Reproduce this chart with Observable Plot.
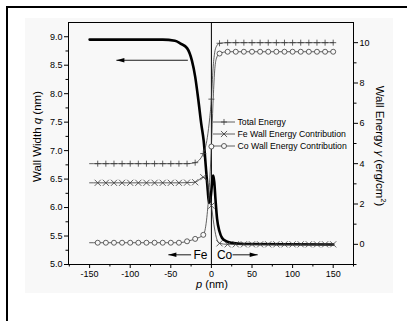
<!DOCTYPE html>
<html><head><meta charset="utf-8">
<script src="https://cdn.jsdelivr.net/npm/d3@7"></script>
<script src="https://cdn.jsdelivr.net/npm/@observablehq/plot@0.6"></script>
<style>
html,body{margin:0;padding:0;background:#fff;}
#page{position:relative;width:407px;height:321px;overflow:hidden;background:#fff;}
#bt{position:absolute;left:6px;top:6px;width:401px;height:2px;background:#000;}
#bl{position:absolute;left:6px;top:6px;width:2px;height:315px;background:#000;}
#chart{position:absolute;left:25px;top:18px;}
</style></head><body>
<div id="page"><div id="bt"></div><div id="bl"></div><div id="chart"></div></div>
<script>
// ---- data ----
const widthP = [-150,-100,-60,-45,-38,-30,-24,-20,-16,-12.5,-9.5,-6.5,-4.5,-3,-1.5,0,1.2,2.3,3.5,5,7,10,13,18,25,40,150];
const widthQ = [8.95,8.95,8.95,8.93,8.88,8.8,8.58,8.3,7.88,7.47,7.17,6.65,6.3,6.08,6.12,6.3,6.5,6.56,6.45,6.15,5.8,5.58,5.47,5.41,5.38,5.36,5.35];

const totalP = [-150,-140,-130,-120,-110,-100,-90,-80,-70,-60,-50,-40,-30,-20,-10,-5,-2,0,2,4,6,10,20,30,40,50,60,70,80,90,100,110,120,130,140,150];
const totalG = [4.0,4.0,4.0,4.0,4.0,4.0,4.0,4.0,4.0,4.0,4.0,4.0,4.0,4.05,4.5,5.3,6.3,7.2,8.7,9.5,9.8,9.97,10.0,10.0,10.0,10.0,10.0,10.0,10.0,10.0,10.0,10.0,10.0,10.0,10.0,10.0];

const feP = [-150,-140,-130,-120,-110,-100,-90,-80,-70,-60,-50,-40,-30,-20,-10,-6,-3,0,3,6,10,20,30,40,50,60,70,80,90,100,110,120,130,140,150];
const feG = [3.05,3.05,3.05,3.05,3.05,3.05,3.05,3.05,3.05,3.05,3.05,3.05,3.06,3.08,3.33,3.2,2.6,1.92,1.0,0.35,0.05,0,0,0,0,0,0,0,0,0,0,0,0,0,0];

const coP = [-150,-140,-130,-120,-110,-100,-90,-80,-70,-60,-50,-40,-30,-20,-10,-6,-3,0,2,4,6,10,20,30,40,50,60,70,80,90,100,110,120,130,140,150];
const coG = [0.08,0.08,0.08,0.08,0.08,0.08,0.08,0.08,0.08,0.08,0.08,0.08,0.15,0.27,0.47,1.2,2.6,4.85,7.0,8.6,9.2,9.46,9.55,9.55,9.55,9.55,9.55,9.55,9.55,9.55,9.55,9.55,9.55,9.55,9.55,9.55];

// positions carrying a symbol
const markP = [-140,-130,-120,-110,-100,-90,-80,-70,-60,-50,-40,-30,-20,-10,0,10,20,30,40,50,60,70,80,90,100,110,120,130,140,150];

const xTicks = [-150,-100,-50,0,50,100,150];
const xMinor = [-175,-125,-75,-25,25,75,125,175];
const qTicks = [5.0,5.5,6.0,6.5,7.0,7.5,8.0,8.5,9.0];
const qMinor = [5.25,5.75,6.25,6.75,7.25,7.75,8.25,8.75];
const gTicks = [0,2,4,6,8,10];
const gMinor = [-1,1,3,5,7,9];

const legendLabels = ["Total Energy","Fe Wall Energy Contribution","Co Wall Energy Contribution"];
const legendSymbols = ["plus","times","circle"];

const noteText = ["Fe","Co"];
const noteP = [-13.5,16.2];
const noteQ = [5.163,5.163];
const arrowX1 = [-29,-25,26];
const arrowX2 = [-117,-53,57];
const arrowY = [8.587,5.17,5.17];

// ---- build ----
const bg = "#f8f8f8";
const font = "'Liberation Sans', Arial, sans-serif";
const g2q = d3.scaleLinear([-1, 11], [5, 9.25]); // right axis -> left axis units

const toRows = (P, V, conv) => P.map((p, i) => ({p, q: conv ? g2q(V[i]) : V[i]}));
const width = toRows(widthP, widthQ, false);
const total = toRows(totalP, totalG, true);
const fe = toRows(feP, feG, true);
const co = toRows(coP, coG, true);
const marked = rows => rows.filter(d => markP.includes(d.p));

const arrows = arrowX1.map((x1, i) => ({x1, x2: arrowX2[i], y: arrowY[i]}));
const headRight = {draw(c){ c.moveTo(0,0); c.lineTo(-8,-2.2); c.lineTo(-8,2.2); c.closePath(); }};
const headLeft = {draw(c){ c.moveTo(0,0); c.lineTo(8,-2.2); c.lineTo(8,2.2); c.closePath(); }};
const notes = noteText.map((t, i) => ({t, p: noteP[i], q: noteQ[i]}));

const lineStroke = "#3a3a3a";
const plot = Plot.plot({
  width: 368, height: 275,
  marginLeft: 43, marginRight: 40, marginTop: 4, marginBottom: 29,
  style: {background: bg, fontFamily: font, color: "#000", overflow: "visible"},
  x: {domain: [-176, 175]},
  y: {domain: [5, 9.25]},
  marks: [
    Plot.axisX({ticks: xTicks, tickSize: 4, tickPadding: 2, fontSize: 9, tickFormat: d => String(d), label: null}),
    Plot.axisX({ticks: xMinor, tickSize: 2.5, tickFormat: () => "", label: null}),
    Plot.axisY({ticks: qTicks, tickSize: 4, tickPadding: 2, fontSize: 9, tickFormat: d3.format(".1f"), label: null}),
    Plot.axisY({ticks: qMinor, tickSize: 2.5, tickFormat: () => "", label: null}),
    Plot.axisY({anchor: "right", ticks: gTicks.map(g2q), tickSize: 4, tickPadding: 2, fontSize: 9,
      tickFormat: q => String(Math.round(g2q.invert(q))), label: null}),
    Plot.axisY({anchor: "right", ticks: gMinor.map(g2q), tickSize: 2.5, tickFormat: () => "", label: null}),
    Plot.ruleX([0], {stroke: "#000", strokeWidth: 1}),
    Plot.line(width, {x: "p", y: "q", stroke: "#000", strokeWidth: 2.6, curve: "monotone-x"}),
    Plot.line(total, {x: "p", y: "q", stroke: lineStroke, strokeWidth: 0.8, curve: "monotone-x"}),
    Plot.line(fe, {x: "p", y: "q", stroke: lineStroke, strokeWidth: 0.8, curve: "monotone-x"}),
    Plot.line(co, {x: "p", y: "q", stroke: lineStroke, strokeWidth: 0.8, curve: "monotone-x"}),
    Plot.dot(marked(total), {x: "p", y: "q", symbol: "plus", r: 2.1, stroke: lineStroke, strokeWidth: 0.8, fill: "none"}),
    Plot.dot(marked(fe), {x: "p", y: "q", symbol: "times", r: 2.9, stroke: lineStroke, strokeWidth: 0.8, fill: "none"}),
    Plot.dot(marked(co), {x: "p", y: "q", symbol: "circle", r: 2.5, stroke: lineStroke, strokeWidth: 0.8, fill: bg}),
    Plot.link(arrows, {x1: "x1", x2: "x2", y1: "y", y2: "y", stroke: "#000", strokeWidth: 0.9}),
    Plot.dot(arrows.filter(d => d.x2 < d.x1), {x: "x2", y: "y", symbol: headLeft, r: 3, fill: "#000", stroke: "none"}),
    Plot.dot(arrows.filter(d => d.x2 > d.x1), {x: "x2", y: "y", symbol: headRight, r: 3, fill: "#000", stroke: "none"}),
    Plot.text(notes, {x: "p", y: "q", text: "t", fontSize: 12, fill: "#000"}),
    Plot.frame({stroke: "#000", strokeWidth: 1})
  ]
});
document.getElementById("chart").appendChild(plot);

// ---- axis titles & legend ----
const svg = d3.select(plot);
const lt = svg.append("text").attr("transform", "translate(16,118.5) rotate(-90)")
  .attr("text-anchor", "middle").attr("font-family", font).attr("font-size", 11.5).attr("fill", "#000");
lt.append("tspan").text("Wall Width ");
lt.append("tspan").attr("font-style", "italic").text("q");
lt.append("tspan").text(" (nm)");

const rt = svg.append("text").attr("transform", "translate(351,128) rotate(90)")
  .attr("text-anchor", "middle").attr("font-family", font).attr("font-size", 11.5).attr("fill", "#000");
rt.append("tspan").text("Wall Energy ");
rt.append("tspan").attr("font-style", "italic").text("γ");
rt.append("tspan").text(" (erg/cm");
rt.append("tspan").attr("font-size", 7.5).attr("dy", -4.5).text("2");
rt.append("tspan").attr("dy", 4.5).text(")");

const bt = svg.append("text").attr("x", 187).attr("y", 270)
  .attr("text-anchor", "middle").attr("font-family", font).attr("font-size", 11).attr("fill", "#000");
bt.append("tspan").attr("font-style", "italic").text("p");
bt.append("tspan").text(" (nm)");

const symTypes = {plus: d3.symbolPlus, times: d3.symbolTimes, circle: d3.symbolCircle};
const symR = {plus: 2.1, times: 2.9, circle: 2.5};
const leg = svg.append("g").attr("font-family", font).attr("font-size", 8.7).attr("text-anchor", "start");
legendLabels.forEach((lab, i) => {
  const y = 104 + i * 12;
  const s = legendSymbols[i];
  leg.append("line").attr("x1", 188).attr("x2", 210).attr("y1", y).attr("y2", y)
    .attr("stroke", lineStroke).attr("stroke-width", 0.8);
  leg.append("path").attr("transform", `translate(199,${y})`)
    .attr("d", d3.symbol(symTypes[s], Math.PI * symR[s] * symR[s])())
    .attr("stroke", lineStroke).attr("stroke-width", 0.8)
    .attr("fill", s === "circle" ? bg : "none");
  leg.append("text").attr("x", 212.5).attr("y", y).attr("dy", "0.35em")
    .attr("text-anchor", "start").attr("fill", "#000").text(lab);
});
</script>
</body></html>
